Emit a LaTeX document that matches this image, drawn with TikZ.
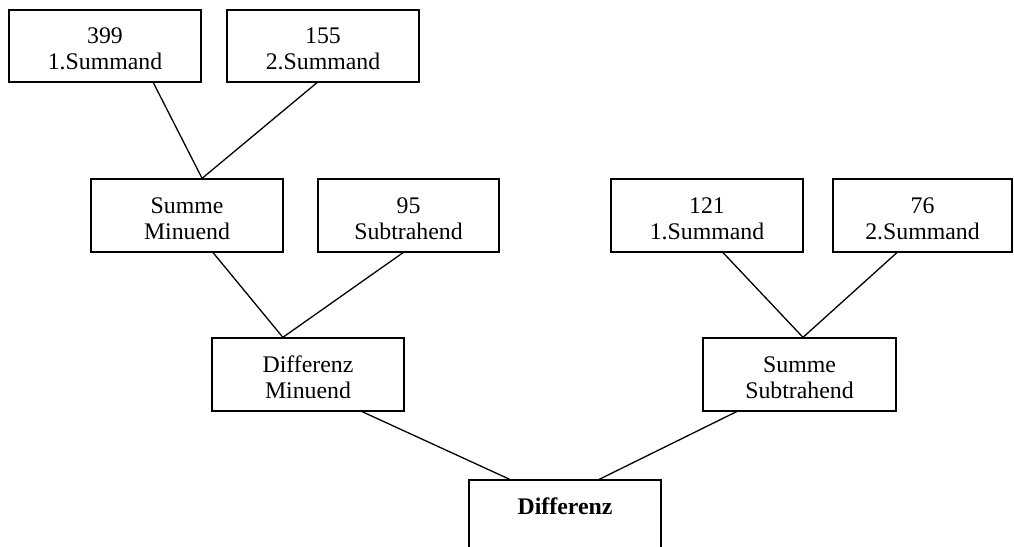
\documentclass[tikz,border=0pt]{standalone}
\usepackage{fontspec}
\setmainfont{Liberation Serif}
\usetikzlibrary{shapes,calc}
\tikzstyle{block} = [rectangle, draw, line width=1.3pt, align=center,
    minimum width=192pt, minimum height=72pt, inner sep=0pt,
    font=\fontsize{23.8}{26}\selectfont,
    execute at begin node={\rule{0pt}{48pt}}]
\tikzstyle{line} = [draw, line width=1.3pt]

\begin{document}
\begin{tikzpicture}[x=1pt, y=-1pt, node distance=218pt]
  \useasboundingbox (0,0) rectangle (1014,546);
  \node [block] (first_summand) at (105,46) {399\\1.Summand};
  \node [block, right of=first_summand] (second_summand) {155\\2.Summand};
  \node [block, minimum height=73pt] (sum_minuend) at (187,215.5) {Summe\\Minuend};
  \node [block, right of=sum_minuend, node distance=221.5pt, minimum width=181pt,
    minimum height=73pt] (subtrahend) {95\\Subtrahend};
  \node [block, right of=subtrahend, node distance=298.5pt, minimum height=73pt]
    (sub_first_summand) {121\\1.Summand};
  \node [block, right of=sub_first_summand, node distance=215.5pt, minimum width=179pt,
    minimum height=73pt] (sub_second_summand) {76\\2.Summand};
  \node [block, minimum height=73pt] (diff_minuend) at (308,374.5) {Differenz\\Minuend};
  \node [block, right of=diff_minuend, node distance=491.5pt, minimum width=193pt,
    minimum height=73pt] (sum_subtrahend) {Summe\\Subtrahend};
  \node [block, minimum height=73pt] (difference) at (565,516.5)
    {\textbf{Differenz}\\\rule{0pt}{1pt}};
  \path [line] ($(first_summand.south west)!.75!(first_summand.south east)$)
    -- ($(sum_minuend.north west)!.578!(sum_minuend.north east)$);
  \path [line] ($(second_summand.south west)!.469!(second_summand.south east)$)
    -- ($(sum_minuend.north west)!.578!(sum_minuend.north east)$);
  \path [line] ($(sum_minuend.south west)!.635!(sum_minuend.south east)$)
    -- ($(diff_minuend.north west)!.37!(diff_minuend.north east)$);
  \path [line] ($(subtrahend.south west)!.47!(subtrahend.south east)$)
    -- ($(diff_minuend.north west)!.37!(diff_minuend.north east)$);
  \path [line] ($(sub_first_summand.south west)!.583!(sub_first_summand.south east)$)
    -- ($(sum_subtrahend.north west)!.518!(sum_subtrahend.north east)$);
  \path [line] ($(sub_second_summand.south west)!.358!(sub_second_summand.south east)$)
    -- ($(sum_subtrahend.north west)!.518!(sum_subtrahend.north east)$);
  \path [line] ($(diff_minuend.south west)!.78!(diff_minuend.south east)$)
    -- ($(difference.north west)!.214!(difference.north east)$);
  \path [line] ($(sum_subtrahend.south west)!.176!(sum_subtrahend.south east)$)
    -- ($(difference.north west)!.677!(difference.north east)$);
\end{tikzpicture}
\end{document}
